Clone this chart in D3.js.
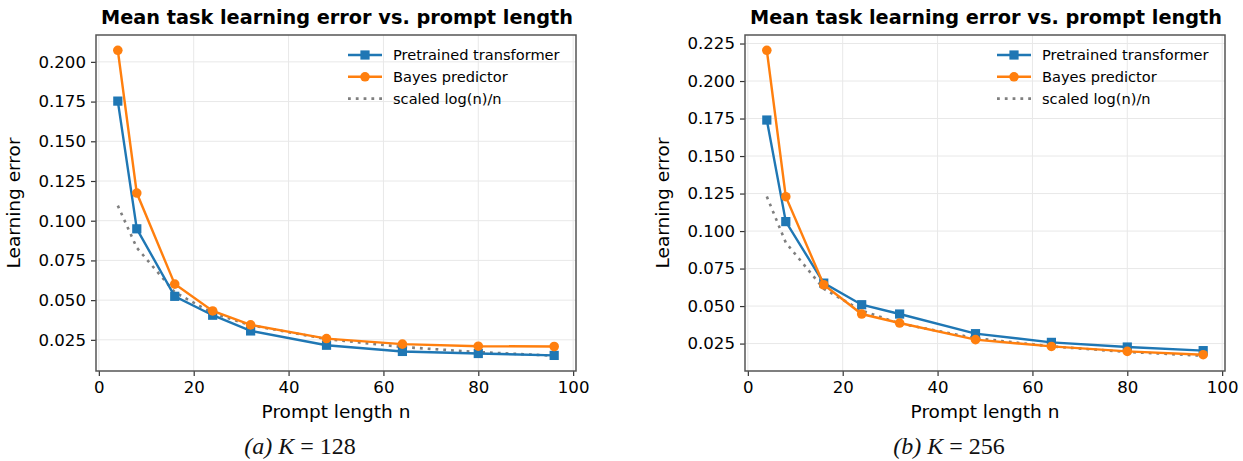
<!DOCTYPE html>
<html lang="en">
<head>
  <meta charset="UTF-8" />
  <title>Mean task learning error vs. prompt length</title>
  <style>
    body { margin: 0; background: #fff; font-family: "DejaVu Sans", sans-serif; }
  </style>
</head>
<body>
  <div id="chart"></div>

  <script src="https://d3js.org/d3.v7.min.js"></script>

  <script>
    // prompt lengths (x values shared by every series)
    const promptLengths = [4, 8, 16, 24, 32, 48, 64, 80, 96];

    // K = 128
    const transformerK128 = [0.1753, 0.0949, 0.0524, 0.0405, 0.0306, 0.0216, 0.0177, 0.0164, 0.0152];
    const bayesK128       = [0.2073, 0.1174, 0.0601, 0.0432, 0.0344, 0.0258, 0.0223, 0.0210, 0.0208];
    const logScaledK128   = [0.1095, 0.0830, 0.0550, 0.0418, 0.0342, 0.0255, 0.0205, 0.0173, 0.0150];

    // K = 256
    const transformerK256 = [0.1740, 0.1063, 0.0653, 0.0509, 0.0447, 0.0316, 0.0258, 0.0227, 0.0203];
    const bayesK256       = [0.2205, 0.1229, 0.0642, 0.0447, 0.0387, 0.0276, 0.0231, 0.0198, 0.0176];
    const logScaledK256   = [0.1230, 0.0923, 0.0615, 0.0470, 0.0384, 0.0286, 0.0231, 0.0194, 0.0169];

    const xTicks = [0, 20, 40, 60, 80, 100];
    const yTicksK128 = [0.025, 0.050, 0.075, 0.100, 0.125, 0.150, 0.175, 0.200];
    const yTicksK256 = [0.025, 0.050, 0.075, 0.100, 0.125, 0.150, 0.175, 0.200, 0.225];

    const seriesNames = ["Pretrained transformer", "Bayes predictor", "scaled log(n)/n"];
    const chartTitle = "Mean task learning error vs. prompt length";
    const xLabel = "Prompt length n";
    const yLabel = "Learning error";

    const BLUE = "#1f77b4", ORANGE = "#ff7f0e", GRAY = "#7f7f7f";

    const svg = d3.select("#chart").append("svg")
      .attr("width", 1243)
      .attr("height", 461);

    function drawPanel(opts) {
      const { left, right, top, bottom, yTicks, transformer, bayes, logScaled, caption } = opts;

      // matplotlib-style 5% margins
      const xMin = d3.min(promptLengths), xMax = d3.max(promptLengths);
      const xPad = (xMax - xMin) * 0.05;
      const allY = transformer.concat(bayes, logScaled);
      const yMin = d3.min(allY), yMax = d3.max(allY);
      const yPad = (yMax - yMin) * 0.05;

      const x = d3.scaleLinear().domain([xMin - xPad, xMax + xPad]).range([left, right]);
      const y = d3.scaleLinear().domain([yMin - yPad, yMax + yPad]).range([bottom, top]);

      const g = svg.append("g");

      // grid
      g.append("g").selectAll("line").data(xTicks).enter().append("line")
        .attr("x1", d => x(d)).attr("x2", d => x(d))
        .attr("y1", top).attr("y2", bottom)
        .attr("stroke", "#e8e8e8").attr("stroke-width", 1);
      g.append("g").selectAll("line").data(yTicks).enter().append("line")
        .attr("x1", left).attr("x2", right)
        .attr("y1", d => y(d)).attr("y2", d => y(d))
        .attr("stroke", "#e8e8e8").attr("stroke-width", 1);

      // axes
      const xAxis = g.append("g")
        .attr("transform", `translate(0,${bottom})`)
        .call(d3.axisBottom(x).tickValues(xTicks).tickSize(5).tickPadding(5));
      const yAxis = g.append("g")
        .attr("transform", `translate(${left},0)`)
        .call(d3.axisLeft(y).tickValues(yTicks).tickFormat(d3.format(".3f")).tickSize(5).tickPadding(5));
      [xAxis, yAxis].forEach(a => {
        a.select(".domain").remove();
        a.selectAll(".tick line").attr("stroke", "#333").attr("stroke-width", 1.2);
        a.selectAll(".tick text")
          .attr("fill", "#000")
          .style("font-family", "'DejaVu Sans', sans-serif")
          .style("font-size", "16.6px");
      });

      // frame
      g.append("rect")
        .attr("x", left).attr("y", top)
        .attr("width", right - left).attr("height", bottom - top)
        .attr("fill", "none").attr("stroke", "#555").attr("stroke-width", 1.5);

      const line = d3.line().x((d, i) => x(promptLengths[i])).y(d => y(d));

      // scaled log(n)/n
      g.append("path").datum(logScaled)
        .attr("d", line).attr("fill", "none")
        .attr("stroke", GRAY).attr("stroke-width", 2.6)
        .attr("stroke-dasharray", "2.8 5");

      // transformer
      g.append("path").datum(transformer)
        .attr("d", line).attr("fill", "none")
        .attr("stroke", BLUE).attr("stroke-width", 2.4);
      g.append("g").selectAll("rect").data(transformer).enter().append("rect")
        .attr("x", (d, i) => x(promptLengths[i]) - 4.6)
        .attr("y", d => y(d) - 4.6)
        .attr("width", 9.2).attr("height", 9.2)
        .attr("fill", BLUE);

      // bayes
      g.append("path").datum(bayes)
        .attr("d", line).attr("fill", "none")
        .attr("stroke", ORANGE).attr("stroke-width", 2.4);
      g.append("g").selectAll("circle").data(bayes).enter().append("circle")
        .attr("cx", (d, i) => x(promptLengths[i]))
        .attr("cy", d => y(d))
        .attr("r", 4.8)
        .attr("fill", ORANGE);

      // title
      g.append("text")
        .attr("x", (left + right) / 2 + 1).attr("y", 24)
        .attr("text-anchor", "middle")
        .attr("font-size", "19.3px").attr("font-weight", "bold")
        .attr("fill", "#000")
        .text(chartTitle);

      // axis labels
      g.append("text")
        .attr("x", (left + right) / 2).attr("y", 418)
        .attr("text-anchor", "middle")
        .attr("font-size", "18.5px").attr("fill", "#000")
        .text(xLabel);
      g.append("text")
        .attr("transform", `translate(${left - 76},${(top + bottom) / 2}) rotate(-90)`)
        .attr("text-anchor", "middle")
        .attr("font-size", "18.5px").attr("fill", "#000")
        .text(yLabel);

      // legend
      const legend = g.append("g").attr("transform", `translate(${right - 228},0)`);
      const rows = [
        { name: seriesNames[0], color: BLUE, marker: "square" },
        { name: seriesNames[1], color: ORANGE, marker: "circle" },
        { name: seriesNames[2], color: GRAY, marker: "none" }
      ];
      rows.forEach((r, i) => {
        const cy = 55 + i * 21.8;
        legend.append("line")
          .attr("x1", 0).attr("x2", 34).attr("y1", cy).attr("y2", cy)
          .attr("stroke", r.color)
          .attr("stroke-width", r.marker === "none" ? 2.6 : 2.4)
          .attr("stroke-dasharray", r.marker === "none" ? "2.8 5" : null);
        if (r.marker === "square") {
          legend.append("rect").attr("x", 17 - 4.6).attr("y", cy - 4.6)
            .attr("width", 9.2).attr("height", 9.2).attr("fill", r.color);
        } else if (r.marker === "circle") {
          legend.append("circle").attr("cx", 17).attr("cy", cy).attr("r", 4.8).attr("fill", r.color);
        }
        legend.append("text")
          .attr("x", 45).attr("y", cy + 5)
          .attr("font-size", "14.6px").attr("fill", "#000")
          .text(r.name);
      });

      // sub-caption
      const cap = g.append("text")
        .attr("x", (left + right) / 2 - 36).attr("y", 454)
        .attr("text-anchor", "middle")
        .style("font-family", "'Liberation Serif', 'DejaVu Serif', serif")
        .attr("font-size", "24px").attr("fill", "#111");
      cap.append("tspan").attr("font-style", "italic").text(caption.tag + " ");
      cap.append("tspan").attr("font-style", "italic").text("K");
      cap.append("tspan").text(" = " + caption.k);
    }

    drawPanel({
      left: 96, right: 576, top: 35, bottom: 371,
      yTicks: yTicksK128,
      transformer: transformerK128, bayes: bayesK128, logScaled: logScaledK128,
      caption: { tag: "(a)", k: 128 }
    });

    drawPanel({
      left: 745, right: 1225, top: 35, bottom: 371,
      yTicks: yTicksK256,
      transformer: transformerK256, bayes: bayesK256, logScaled: logScaledK256,
      caption: { tag: "(b)", k: 256 }
    });
  </script>
</body>
</html>
